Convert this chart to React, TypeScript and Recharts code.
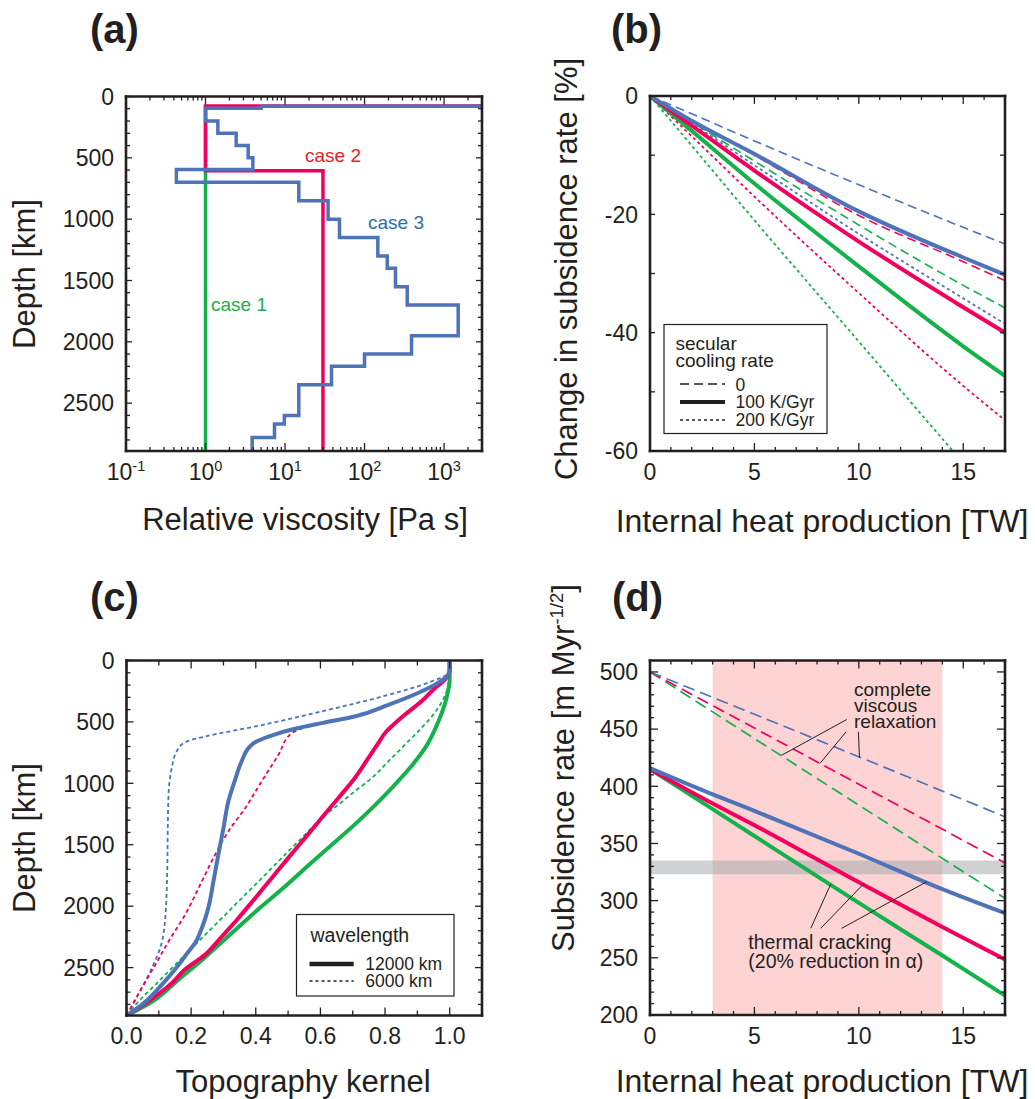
import React from 'react';
import { LineChart, Line, XAxis, YAxis, ReferenceArea, ReferenceLine } from 'recharts';

const FONT = "'Liberation Sans', Arial, Helvetica, sans-serif";
const INK = '#231f20';
const BLUE = '#4e73b9';
const RED = '#f3005e';
const GREEN = '#13b24b';

// ---------------- Panel (a): viscosity profiles ----------------
const LITH_ETA = 100000;
const case1Depths = [80, 2890];
const case1Eta = [1];
const case2Depths = [78, 605, 2890];
const case2Eta = [1, 30];
const case3Depths = [80, 95, 200, 300, 400, 500, 595, 700, 850, 1000, 1150, 1300, 1400, 1550, 1700, 1950, 2100, 2200, 2350, 2600, 2670, 2780, 2890];
const case3Eta = [5, 1, 1.43, 2.43, 3.44, 3.94, 0.43, 14.9, 34.8, 48.4, 147, 193, 245, 344, 1506, 390, 100, 38.4, 14.9, 9.8, 7.37, 3.86];
const etaMajor = [0.1, 1, 10, 100, 1000];
const depthTicks = Array.from({ length: 29 }, (_, i) => i * 100);

// ---------------- Panel (b): change in subsidence rate ----------------
const heatX = [0, 2, 5, 10, 15, 17];
const bBlueDash = [0, -3.0, -7.6, -15.0, -22.2, -25.0];
const bBlueSolid = [0, -4.2, -9.8, -19.5, -27.3, -30.2];
const bBlueDot = [0, -4.6, -11.7, -23.3, -34.2, -38.5];
const bRedDash = [0, -4.1, -10.0, -20.2, -28.0, -31.2];
const bRedSolid = [0, -5.0, -12.6, -24.6, -35.7, -40.0];
const bRedDot = [0, -6.8, -17.0, -33.3, -49.0, -54.8];
const bGreenDash = [0, -4.4, -11.0, -21.8, -32.0, -35.8];
const bGreenSolid = [0, -5.9, -14.8, -28.8, -42.3, -47.3];
const bGreenDot = [0, -8.4, -21.0, -41.5, -62.0, -70.0];

// ---------------- Panel (c): topography kernels (kernel, depth) ----------------
const cGreenSolidK = [0, 0.08, 0.16, 0.24, 0.32, 0.40, 0.485, 0.565, 0.635, 0.705, 0.77, 0.83, 0.885, 0.93, 0.965, 0.99, 1.0, 1.0];
const cGreenSolidD = [2890, 2776, 2600, 2423, 2233, 2043, 1853, 1663, 1500, 1338, 1175, 1012, 849, 687, 497, 307, 150, 0];
const cGreenDotK = [0, 0.037, 0.089, 0.14, 0.192, 0.243, 0.295, 0.346, 0.398, 0.449, 0.50, 0.552, 0.603, 0.655, 0.706, 0.758, 0.81, 0.861, 0.912, 0.964, 0.99, 1.0, 1.0];
const cGreenDotD = [2890, 2776, 2640, 2505, 2369, 2233, 2098, 1962, 1826, 1691, 1555, 1419, 1284, 1175, 1066, 958, 822, 687, 551, 388, 252, 90, 0];
const cRedSolidK = [0, 0.037, 0.089, 0.14, 0.18, 0.243, 0.295, 0.346, 0.398, 0.449, 0.50, 0.552, 0.603, 0.655, 0.706, 0.748, 0.779, 0.804, 0.82, 0.861, 0.912, 0.954, 0.985, 1.0, 1.0];
const cRedSolidD = [2890, 2830, 2735, 2627, 2518, 2396, 2247, 2098, 1935, 1772, 1609, 1446, 1284, 1121, 958, 795, 673, 578, 537, 442, 334, 225, 157, 76, 0];
const cRedDotK = [0, 0.047, 0.089, 0.13, 0.181, 0.233, 0.274, 0.315, 0.367, 0.418, 0.47, 0.511, 0.53, 0.60, 0.706, 0.81, 0.912, 0.985, 1.0, 1.0];
const cRedDotD = [2890, 2667, 2478, 2288, 2070, 1799, 1582, 1392, 1202, 985, 768, 592, 565, 512, 456, 361, 252, 144, 90, 0];
const cBlueSolidK = [0, 0.047, 0.109, 0.161, 0.192, 0.212, 0.233, 0.253, 0.269, 0.284, 0.30, 0.315, 0.336, 0.356, 0.382, 0.398, 0.439, 0.521, 0.603, 0.706, 0.81, 0.912, 0.985, 1.0, 1.0];
const cBlueSolidD = [2890, 2803, 2640, 2478, 2369, 2301, 2179, 2016, 1799, 1582, 1365, 1148, 971, 822, 700, 665, 619, 556, 510, 456, 361, 252, 144, 90, 0];
const cBlueDotK = [0, 0.047, 0.083, 0.104, 0.119, 0.126, 0.128, 0.13, 0.14, 0.155, 0.181, 0.243, 0.398, 0.603, 0.81, 0.943, 1.0, 1.0];
const cBlueDotD = [2890, 2667, 2478, 2342, 2125, 1718, 1311, 1094, 876, 741, 665, 619, 537, 415, 280, 171, 90, 0];
const kernelTicks = Array.from({ length: 11 }, (_, i) => i / 10);

// ---------------- Panel (d): subsidence rate ----------------
const dSolidX = [0, 3, 5, 10, 14, 17];
const dBlueSolid = [416, 393, 378.5, 341, 310, 289];
const dRedSolid = [415, 385, 366, 316, 277, 248.6];
const dGreenSolid = [415, 380, 356.5, 298, 252, 217];
const dDashX = [0, 8.5, 17];
const dBlueDash = [500, 437, 373.3];
const dRedDash = [500, 416.5, 333];
const dGreenDash = [500, 401, 302];
const heatBand = [3, 14];
const observedBand = [323, 335];
const heatTicks = Array.from({ length: 18 }, (_, i) => i);
const bYTicks = [0, -10, -20, -30, -40, -50, -60];
const dYTicks = Array.from({ length: 31 }, (_, i) => 200 + i * 10);

// ---------------- helpers ----------------
const pts = (xs: number[], ys: number[]) => xs.map((x, i) => ({ x, y: ys[i] }));
const stepProfile = (depths: number[], etas: number[], lith?: number) => {
  const out: { x: number; y: number }[] = [];
  if (lith) out.push({ x: lith, y: depths[0] });
  etas.forEach((e, i) => {
    out.push({ x: e, y: depths[i] });
    out.push({ x: e, y: depths[i + 1] });
  });
  return out;
};
const logMinor = () => {
  const t: number[] = [];
  for (let e = -1; e <= 3; e++) {
    for (let m = 1; m <= 9; m++) {
      const v = Number((m * Math.pow(10, e)).toPrecision(3));
      if (v <= 3000) t.push(v);
    }
  }
  return t;
};
const etaTicks = logMinor();

type Side = 'bottom' | 'top' | 'left' | 'right';
const TICK_FS = 23;
const tickRenderer = (
  side: Side,
  isMajor: (v: number) => boolean,
  majorLen: number,
  minorLen: number,
  label?: (v: number) => React.ReactNode
) => (props: any) => {
  const { x, y, payload } = props;
  const v = payload.value;
  const len = isMajor(v) ? majorLen : minorLen;
  let x2 = x;
  let y2 = y;
  if (side === 'bottom') y2 = y - len;
  if (side === 'top') y2 = y + len;
  if (side === 'left') x2 = x + len;
  if (side === 'right') x2 = x - len;
  const lab = label ? label(v) : null;
  let text: React.ReactNode = null;
  if (lab !== null && lab !== undefined) {
    if (side === 'bottom')
      text = (
        <text x={x} y={y + 28.5} textAnchor="middle" fontFamily={FONT} fontSize={TICK_FS} fill={INK}>
          {lab}
        </text>
      );
    if (side === 'left')
      text = (
        <text x={x - 12} y={y} dy="0.36em" textAnchor="end" fontFamily={FONT} fontSize={TICK_FS} fill={INK}>
          {lab}
        </text>
      );
  }
  return (
    <g>
      <line x1={x} y1={y} x2={x2} y2={y2} stroke={INK} strokeWidth={1.3} />
      {text}
    </g>
  );
};

const AXIS_LINE = { stroke: INK, strokeWidth: 2.6, strokeLinecap: 'square' as const };

type FrameCfg = {
  xDomain: [number, number];
  yDomain: [number, number];
  xLog?: boolean;
  yReversed?: boolean;
  xTicks: number[];
  yTicks: number[];
  xMajor: (v: number) => boolean;
  yMajor: (v: number) => boolean;
  xLabel: (v: number) => React.ReactNode;
  yLabel: (v: number) => React.ReactNode;
  xLen: [number, number];
  yLen: [number, number];
};

const frameAxes = (c: FrameCfg) => {
  const common = {
    axisLine: AXIS_LINE,
    tickLine: false,
    tickSize: 0,
    tickMargin: 0,
    interval: 0 as const,
    allowDataOverflow: true,
    type: 'number' as const,
  };
  return [
    <XAxis key="xb" xAxisId="b" orientation="bottom" dataKey="x" scale={c.xLog ? 'log' : 'linear'} domain={c.xDomain} ticks={c.xTicks} height={1}
      tick={tickRenderer('bottom', c.xMajor, c.xLen[0], c.xLen[1], c.xLabel)} {...common} />,
    <XAxis key="xt" xAxisId="t" orientation="top" dataKey="x" scale={c.xLog ? 'log' : 'linear'} domain={c.xDomain} ticks={c.xTicks} height={1}
      tick={tickRenderer('top', c.xMajor, c.xLen[0], c.xLen[1])} {...common} />,
    <YAxis key="yl" yAxisId="l" orientation="left" domain={c.yDomain} reversed={c.yReversed} ticks={c.yTicks} width={1}
      tick={tickRenderer('left', c.yMajor, c.yLen[0], c.yLen[1], c.yLabel)} {...common} />,
    <YAxis key="yr" yAxisId="r" orientation="right" domain={c.yDomain} reversed={c.yReversed} ticks={c.yTicks} width={1}
      tick={tickRenderer('right', c.yMajor, c.yLen[0], c.yLen[1])} {...common} />,
  ];
};

const series = (key: string, data: { x: number; y: number }[], color: string, width: number, dash?: string, curve: any = 'linear') => (
  <Line key={key} xAxisId="b" yAxisId="l" data={data} dataKey="y" type={curve} stroke={color} strokeWidth={width}
    strokeDasharray={dash} dot={false} activeDot={false} isAnimationActive={false} />
);

const isDecade = (v: number) => etaMajor.some((m) => Math.abs(m - v) < 1e-9);
const logLabel = (v: number) => {
  if (!isDecade(v)) return null;
  const e = Math.round(Math.log10(v));
  return (
    <>
      <tspan>10</tspan>
      <tspan dy={-9} fontSize={14.5}>{String(e)}</tspan>
    </>
  );
};

const DASH_B = '9 5';
const DOT_B = '3 3';
const MY = 'monotoneY';
const MX = 'monotone';

const Txt = (p: any) => <text fontFamily={FONT} fill={INK} {...p} />;

export default function App() {
  return (
    <div style={{ position: 'absolute', left: 0, top: 0, width: 1035, height: 1099, background: '#fff', overflow: 'hidden' }}>
      {/* (a) */}
      <div style={{ position: 'absolute', left: 0, top: 0 }}>
        <LineChart width={517} height={560} margin={{ top: 95.5, left: 125, right: 34, bottom: 108 }}>
          {frameAxes({
            xDomain: [0.1, 3000], yDomain: [0, 2890], xLog: true, yReversed: true,
            xTicks: etaTicks, yTicks: depthTicks,
            xMajor: isDecade, yMajor: (v) => v % 500 === 0,
            xLabel: logLabel, yLabel: (v) => (v % 500 === 0 ? String(v) : null),
            xLen: [8, 4], yLen: [6, 4],
          })}
          {series('c1', stepProfile(case1Depths, case1Eta), GREEN, 3.5)}
          {series('c2', stepProfile(case2Depths, case2Eta, LITH_ETA), RED, 3.5)}
          {series('c3', stepProfile(case3Depths, case3Eta, LITH_ETA), BLUE, 3.5)}
        </LineChart>
      </div>

      {/* (b) */}
      <div style={{ position: 'absolute', left: 517, top: 0 }}>
        <LineChart width={518} height={560} margin={{ top: 95, left: 132, right: 29, bottom: 108 }}>
          {frameAxes({
            xDomain: [0, 17], yDomain: [-60, 0],
            xTicks: heatTicks, yTicks: bYTicks,
            xMajor: (v) => v % 5 === 0, yMajor: () => true,
            xLabel: (v) => (v % 5 === 0 ? String(v) : null), yLabel: (v) => (v % 20 === 0 ? String(v) : null),
            xLen: [8, 4], yLen: [5, 5],
          })}
          {series('bgd', pts(heatX, bGreenDot), GREEN, 1.8, DOT_B, MX)}
          {series('brd', pts(heatX, bRedDot), RED, 1.8, DOT_B, MX)}
          {series('bbd', pts(heatX, bBlueDot), BLUE, 1.8, DOT_B, MX)}
          {series('bga', pts(heatX, bGreenDash), GREEN, 1.6, DASH_B, MX)}
          {series('bra', pts(heatX, bRedDash), RED, 1.6, DASH_B, MX)}
          {series('bba', pts(heatX, bBlueDash), BLUE, 1.6, DASH_B, MX)}
          {series('bgs', pts(heatX, bGreenSolid), GREEN, 4, undefined, MX)}
          {series('brs', pts(heatX, bRedSolid), RED, 4, undefined, MX)}
          {series('bbs', pts(heatX, bBlueSolid), BLUE, 4, undefined, MX)}
        </LineChart>
      </div>

      {/* (c) */}
      <div style={{ position: 'absolute', left: 0, top: 560 }}>
        <LineChart width={517} height={539} margin={{ top: 99.5, left: 125.5, right: 34, bottom: 82.5 }}>
          {frameAxes({
            xDomain: [0, 1.1], yDomain: [0, 2890], yReversed: true,
            xTicks: kernelTicks, yTicks: depthTicks,
            xMajor: (v) => Math.round(v * 10) % 2 === 0, yMajor: (v) => v % 500 === 0,
            xLabel: (v) => (Math.round(v * 10) % 2 === 0 ? v.toFixed(1) : null), yLabel: (v) => (v % 500 === 0 ? String(v) : null),
            xLen: [8, 5], yLen: [7, 4],
          })}
          {series('cbd', pts(cBlueDotK, cBlueDotD), BLUE, 1.8, '4 3', MY)}
          {series('crd', pts(cRedDotK, cRedDotD), RED, 1.8, '4 3', MY)}
          {series('cgd', pts(cGreenDotK, cGreenDotD), GREEN, 1.8, '4 3', MY)}
          {series('cgs', pts(cGreenSolidK, cGreenSolidD), GREEN, 4, undefined, MY)}
          {series('crs', pts(cRedSolidK, cRedSolidD), RED, 4, undefined, MY)}
          {series('cbs', pts(cBlueSolidK, cBlueSolidD), BLUE, 4, undefined, MY)}
        </LineChart>
      </div>

      {/* (d) */}
      <div style={{ position: 'absolute', left: 517, top: 560 }}>
        <LineChart width={518} height={539} margin={{ top: 99.5, left: 132, right: 29, bottom: 83 }}>
          <ReferenceArea xAxisId="b" yAxisId="l" x1={heatBand[0]} x2={heatBand[1]} fill="#fdd3d3" fillOpacity={1} stroke="none" ifOverflow="hidden" />
          <ReferenceArea xAxisId="b" yAxisId="l" y1={observedBand[0]} y2={observedBand[1]} fill="#a8abae" fillOpacity={0.55} stroke="none" ifOverflow="hidden" />
          {frameAxes({
            xDomain: [0, 17], yDomain: [200, 510],
            xTicks: heatTicks, yTicks: dYTicks,
            xMajor: (v) => v % 5 === 0, yMajor: (v) => v % 50 === 0,
            xLabel: (v) => (v % 5 === 0 ? String(v) : null), yLabel: (v) => (v % 50 === 0 ? String(v) : null),
            xLen: [8, 4], yLen: [8, 4],
          })}
          {series('dga', pts(dDashX, dGreenDash), GREEN, 1.7, '12 6', MX)}
          {series('dra', pts(dDashX, dRedDash), RED, 1.7, '12 6', MX)}
          {series('dba', pts(dDashX, dBlueDash), BLUE, 1.7, '12 6', MX)}
          {series('dgs', pts(dSolidX, dGreenSolid), GREEN, 4, undefined, MX)}
          {series('drs', pts(dSolidX, dRedSolid), RED, 4, undefined, MX)}
          {series('dbs', pts(dSolidX, dBlueSolid), BLUE, 4, undefined, MX)}
          <ReferenceLine xAxisId="b" yAxisId="l" segment={[{ x: 9.42, y: 458.4 }, { x: 6.31, y: 427.2 }]} stroke={INK} strokeWidth={1} />
          <ReferenceLine xAxisId="b" yAxisId="l" segment={[{ x: 9.39, y: 447.6 }, { x: 8.14, y: 420.0 }]} stroke={INK} strokeWidth={1} />
          <ReferenceLine xAxisId="b" yAxisId="l" segment={[{ x: 9.98, y: 447.6 }, { x: 10.03, y: 425.2 }]} stroke={INK} strokeWidth={1} />
          <ReferenceLine xAxisId="b" yAxisId="l" segment={[{ x: 7.70, y: 275.8 }, { x: 8.65, y: 314.2 }]} stroke={INK} strokeWidth={1} />
          <ReferenceLine xAxisId="b" yAxisId="l" segment={[{ x: 8.18, y: 275.8 }, { x: 10.25, y: 315.1 }]} stroke={INK} strokeWidth={1} />
          <ReferenceLine xAxisId="b" yAxisId="l" segment={[{ x: 9.18, y: 275.8 }, { x: 13.25, y: 316.5 }]} stroke={INK} strokeWidth={1} />
        </LineChart>
      </div>

      {/* text overlay */}
      <svg width={1035} height={1099} style={{ position: 'absolute', left: 0, top: 0, pointerEvents: 'none' }}>
        <Txt x={90} y={43} fontSize={40} fontWeight="bold">(a)</Txt>
        <Txt x={611} y={43} fontSize={40} fontWeight="bold">(b)</Txt>
        <Txt x={90} y={611} fontSize={40} fontWeight="bold">(c)</Txt>
        <Txt x={612} y={611} fontSize={40} fontWeight="bold">(d)</Txt>

        <Txt x={305} y={530} fontSize={31} textAnchor="middle">Relative viscosity [Pa s]</Txt>
        <Txt x={35} y={274} fontSize={31} textAnchor="middle" transform="rotate(-90 35 274)">Depth [km]</Txt>
        <Txt x={822} y={532} fontSize={32} textAnchor="middle">Internal heat production [TW]</Txt>
        <Txt x={577} y={269} fontSize={31} textAnchor="middle" transform="rotate(-90 577 269)">Change in subsidence rate [%]</Txt>
        <Txt x={303} y={1092} fontSize={31} textAnchor="middle">Topography kernel</Txt>
        <Txt x={35} y={838} fontSize={31} textAnchor="middle" transform="rotate(-90 35 838)">Depth [km]</Txt>
        <Txt x={822} y={1092} fontSize={32} textAnchor="middle">Internal heat production [TW]</Txt>
        <Txt x={574} y={768} fontSize={31} textAnchor="middle" transform="rotate(-90 574 768)">
          Subsidence rate [m Myr<tspan dy={-11} fontSize={18.5}>-1/2</tspan><tspan dy={11}>]</tspan>
        </Txt>

        {/* case labels */}
        <Txt x={305} y={162} fontSize={19} fill="#ee1c25">case 2</Txt>
        <Txt x={368} y={229} fontSize={19} fill="#2e6db4">case 3</Txt>
        <Txt x={211} y={311} fontSize={19} fill="#1aaf4b">case 1</Txt>

        {/* (b) legend */}
        <rect x={664} y={324.5} width={163} height={109} fill="#fff" stroke={INK} strokeWidth={1.2} />
        <Txt x={675.5} y={349.5} fontSize={19}>secular</Txt>
        <Txt x={675.5} y={366.5} fontSize={19}>cooling rate</Txt>
        <line x1={680} x2={725} y1={384} y2={384} stroke={INK} strokeWidth={1.5} strokeDasharray="9 5" />
        <line x1={680} x2={725} y1={402} y2={402} stroke={INK} strokeWidth={4} />
        <line x1={680} x2={725} y1={420} y2={420} stroke={INK} strokeWidth={1.5} strokeDasharray="3 3" />
        <Txt x={735.5} y={390.5} fontSize={17.5}>0</Txt>
        <Txt x={735.5} y={408} fontSize={17.5}>100 K/Gyr</Txt>
        <Txt x={735.5} y={426} fontSize={17.5}>200 K/Gyr</Txt>

        {/* (c) legend */}
        <rect x={296.5} y={914.5} width={157.5} height={81.5} fill="#fff" stroke={INK} strokeWidth={1.2} />
        <Txt x={310.5} y={942.3} fontSize={19.5}>wavelength</Txt>
        <line x1={309.5} x2={353.7} y1={964} y2={964} stroke={INK} strokeWidth={4.5} />
        <line x1={309.5} x2={353.7} y1={981} y2={981} stroke={INK} strokeWidth={1.5} strokeDasharray="3 3" />
        <Txt x={365.3} y={970.3} fontSize={17.5}>12000 km</Txt>
        <Txt x={365.3} y={987.3} fontSize={17.5}>6000 km</Txt>

        {/* (d) annotations */}
        <Txt x={854} y={695.5} fontSize={19}>complete</Txt>
        <Txt x={854} y={711.5} fontSize={19}>viscous</Txt>
        <Txt x={854} y={727.5} fontSize={19}>relaxation</Txt>
        <Txt x={748.3} y={949.3} fontSize={19.5}>thermal cracking</Txt>
        <Txt x={748.3} y={968.3} fontSize={19.5}>(20% reduction in α)</Txt>
      </svg>
    </div>
  );
}
